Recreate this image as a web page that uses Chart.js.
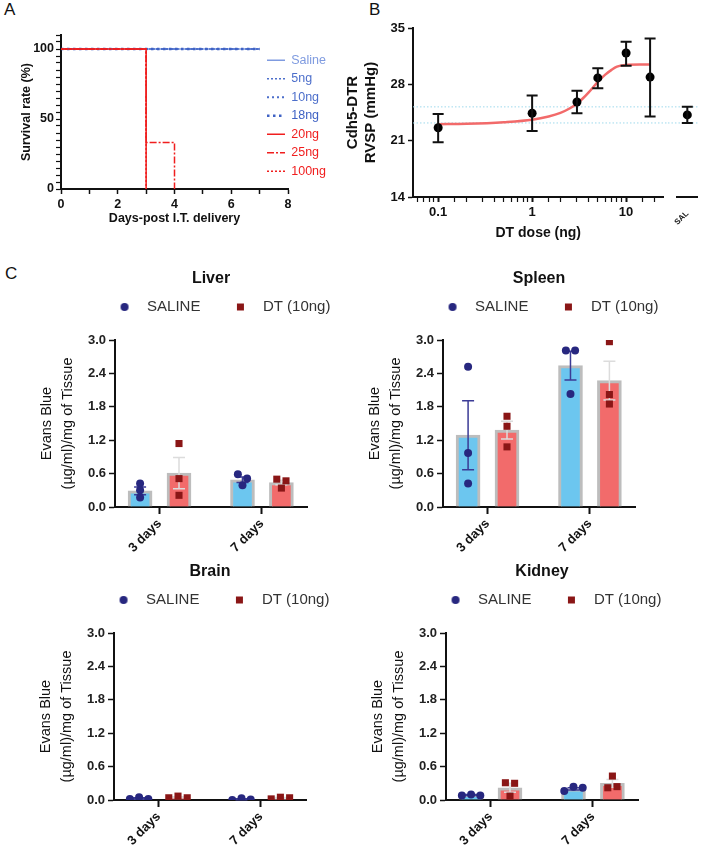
<!DOCTYPE html>
<html>
<head>
<meta charset="utf-8">
<script src="https://cdn.jsdelivr.net/npm/chart.js@4.4.1/dist/chart.umd.min.js"></script>
<style>
  html, body { margin: 0; padding: 0; background: #fff; overflow: hidden; }
  body { width: 702px; height: 847px; position: relative; font-family: 'Liberation Sans', Arial, sans-serif; }
  canvas { position: absolute; }
  .tag { position: absolute; font-size: 17px; color: #111; line-height: 1; }
</style>
</head>
<body>
<div class="tag" style="left:4px;top:1px">A</div>
<div class="tag" style="left:369px;top:1px">B</div>
<div class="tag" style="left:5px;top:265px">C</div>

<canvas id="survival" style="left:0;top:0" width="338" height="230"></canvas>
<canvas id="rvsp" style="left:340px;top:0" width="328" height="242"></canvas>
<canvas id="rvspSal" style="left:667px;top:0" width="35" height="242"></canvas>
<canvas id="liver" style="left:0;top:262px" width="345" height="290"></canvas>
<canvas id="spleen" style="left:328px;top:262px" width="345" height="290"></canvas>
<canvas id="brain" style="left:-1px;top:555px" width="345" height="290"></canvas>
<canvas id="kidney" style="left:331px;top:555px" width="345" height="290"></canvas>

<script>
// ---------- A: survival ----------
const survivalGroups = ['Saline', '5ng', '10ng', '18ng', '20ng', '25ng', '100ng'];
const survivalDays = [[0, 7], [0, 7], [0, 7], [0, 7], [0, 3], [0, 3, 4], [0, 3]];
const survivalPct = [[100, 100], [100, 100], [100, 100], [100, 100], [100, 0], [100, 33.3, 0], [100, 0]];
const dayTicks = [0, 2, 4, 6, 8];
const survivalTicks = [0, 50, 100];

// ---------- B: RVSP dose response ----------
const doseNg = [0.1, 1, 3, 5, 10, 18];
const rvspMean = [22.6, 24.4, 25.8, 28.8, 31.9, 28.9];
const rvspLow = [20.8, 22.2, 24.4, 27.5, 30.3, 24.0];
const rvspHigh = [24.3, 26.6, 27.2, 30.0, 33.3, 33.7];
const salRvsp = [24.2];
const salLow = [23.2];
const salHigh = [25.2];
// fitted curve
const fitDose = [0.1, 0.2, 0.5, 1, 1.5, 2, 2.5, 3, 3.5, 4, 5, 6, 7, 8, 10, 14, 18];
const fitRvsp = [23.05, 23.1, 23.3, 23.6, 24.0, 24.45, 25.0, 25.6, 26.3, 27.0, 28.3, 29.2, 29.8, 30.2, 30.4, 30.45, 30.45];
const salineBand = [25.2, 23.2];
const doseTicks = [0.1, 1, 10];
const rvspTicks = [14, 21, 28, 35];

// ---------- C: Evans blue ----------
const timepoints = ['3 days', '7 days'];

const liverSaline = [[0.42, 0.30, 0.17], [0.59, 0.39, 0.51]];
const liverSalineMean = [0.29, 0.49];
const liverSalineSem = [0.07, 0.05];
const liverDt = [[1.14, 0.51, 0.21], [0.50, 0.34, 0.47]];
const liverDtMean = [0.61, 0.44];
const liverDtSem = [0.28, 0.04];

const spleenSaline = [[2.52, 0.97, 0.42], [2.81, 2.03, 2.81]];
const spleenSalineMean = [1.29, 2.54];
const spleenSalineSem = [0.62, 0.26];
const spleenDt = [[1.63, 1.45, 1.08], [2.97, 2.02, 1.85]];
const spleenDtMean = [1.38, 2.27];
const spleenDtSem = [0.16, 0.35];

const brainSaline = [[0.02, 0.05, 0.02], [0.0, 0.03, 0.01]];
const brainSalineMean = [0.03, 0.013];
const brainSalineSem = [0.01, 0.01];
const brainDt = [[0.04, 0.07, 0.04], [0.02, 0.05, 0.04]];
const brainDtMean = [0.05, 0.037];
const brainDtSem = [0.01, 0.01];

const kidneySaline = [[0.08, 0.10, 0.08], [0.16, 0.24, 0.22]];
const kidneySalineMean = [0.09, 0.20];
const kidneySalineSem = [0.01, 0.02];
const kidneyDt = [[0.31, 0.07, 0.30], [0.22, 0.43, 0.24]];
const kidneyDtMean = [0.22, 0.30];
const kidneyDtSem = [0.08, 0.07];

Chart.defaults.font.family = "'Liberation Sans', Arial, Helvetica, sans-serif";
Chart.defaults.color = '#111';

const BOLD = (size) => ({ size: size, weight: 'bold' });

// vertical whiskers for datasets carrying errLow / errHigh
const errorBars = {
  id: 'errorBars',
  afterDatasetDraw(chart, args) {
    const ds = chart.data.datasets[args.index];
    if (!ds.errLow) return;
    const yScale = chart.scales[args.meta.yAxisID];
    const ctx = chart.ctx;
    const cap = ds.errCap || 6;
    ctx.save();
    ctx.strokeStyle = ds.errColor || '#000';
    ctx.lineWidth = ds.errWidth || 1.5;
    args.meta.data.forEach((el, i) => {
      const lo = yScale.getPixelForValue(ds.errLow[i]);
      const hi = yScale.getPixelForValue(ds.errHigh[i]);
      ctx.beginPath();
      ctx.moveTo(el.x, lo); ctx.lineTo(el.x, hi);
      ctx.moveTo(el.x - cap, lo); ctx.lineTo(el.x + cap, lo);
      ctx.moveTo(el.x - cap, hi); ctx.lineTo(el.x + cap, hi);
      ctx.stroke();
    });
    ctx.restore();
  }
};

// nudge the legend box after layout
const legendShift = {
  id: 'legendShift',
  afterLayout(chart, args, opts) {
    const lg = chart.legend;
    if (!lg) return;
    const dx = opts.dx || 0, dy = opts.dy || 0;
    lg.left += dx;
    if (lg.isHorizontal()) lg.right += dx;
    lg.top += dy; lg.bottom += dy;
  }
};

// ---------- A ----------
const survColor = ['#7f9be0', '#4d6fcb', '#4d6fcb', '#3f62c4', '#f01e1e', '#f01e1e', '#f01e1e'];
const survDash = [[], [2, 2], [2, 3], [2.5, 3.5], [], [7, 2, 2, 2], [2, 2]];
const survWidth = [1.5, 1.5, 2, 2.5, 1.5, 1.5, 1.5];
const survOrder = [4, 3, 2, 1, 0, 0, 0];

new Chart(document.getElementById('survival'), {
  type: 'line',
  data: {
    datasets: survivalGroups.map((g, i) => ({
      label: g,
      data: survivalDays[i].map((d, j) => ({ x: d, y: survivalPct[i][j] })),
      borderColor: survColor[i],
      borderDash: survDash[i],
      borderWidth: survWidth[i],
      stepped: 'before',
      pointRadius: 0,
      fill: false,
      order: survOrder[i]
    }))
  },
  options: {
    responsive: false, animation: false, devicePixelRatio: 1,
    layout: { padding: { left: 8, top: 35, right: 0, bottom: 0 } },
    scales: {
      x: {
        type: 'linear', min: 0, max: 8,
        afterFit: s => { s.height = 41; },
        ticks: { stepSize: 1, autoSkip: false, maxRotation: 0, padding: 3, font: BOLD(12.5), color: '#111',
                 callback: v => dayTicks.includes(v) ? String(v) : '' },
        grid: { drawOnChartArea: false, tickLength: 5, tickWidth: 1.5, tickColor: '#111' },
        border: { color: '#111', width: 2 },
        title: { display: true, text: 'Days-post I.T. delivery', font: BOLD(12.5), color: '#111', padding: { top: 0, bottom: 4 } }
      },
      y: {
        min: 0, max: 110,
        afterFit: s => { s.width = 53; },
        ticks: { stepSize: 5, autoSkip: false, padding: 2, font: BOLD(12.5), color: '#111',
                 callback: v => survivalTicks.includes(v) ? String(v) : '' },
        grid: { drawOnChartArea: false, tickLength: 5, tickWidth: 1.2, tickColor: '#111' },
        border: { color: '#111', width: 2 },
        title: { display: true, text: 'Survival rate (%)', font: BOLD(12.5), color: '#111', padding: { top: 11, bottom: 0 } }
      }
    },
    plugins: {
      legend: {
        position: 'right', align: 'start', maxWidth: 50,
        labels: {
          usePointStyle: true, pointStyle: 'line', pointStyleWidth: 18, padding: 6,
          font: { size: 12.5 },
          generateLabels: chart => Chart.defaults.plugins.legend.labels.generateLabels(chart)
            .sort((a, b) => a.datasetIndex - b.datasetIndex)
            .map(item => Object.assign(item, {
              fontColor: survColor[item.datasetIndex],
              strokeStyle: survColor[item.datasetIndex],
              lineDash: survDash[item.datasetIndex],
              lineWidth: survWidth[item.datasetIndex]
            }))
        }
      },
      legendShift: { dx: -27, dy: 13 },
      tooltip: { enabled: false }
    }
  },
  plugins: [legendShift]
});

// ---------- B ----------
const isDoseTick = v => doseTicks.some(t => Math.abs(v / t - 1) < 1e-6);
const bandLine = (y, x0, x1) => ({
  type: 'line', data: [{ x: x0, y: y }, { x: x1, y: y }],
  borderColor: '#9fd9ec', borderWidth: 1, borderDash: [1.5, 2], pointRadius: 0, clip: false, order: 2
});

new Chart(document.getElementById('rvsp'), {
  type: 'scatter',
  data: {
    datasets: [
      {
        label: 'RVSP', data: doseNg.map((d, i) => ({ x: d, y: rvspMean[i] })),
        backgroundColor: '#000', borderWidth: 0, pointRadius: 4.5, order: 0,
        errLow: rvspLow, errHigh: rvspHigh, errColor: '#111', errWidth: 2, errCap: 5.5
      },
      {
        type: 'line', label: 'fit', data: fitDose.map((d, i) => ({ x: d, y: fitRvsp[i] })),
        borderColor: '#f26a6a', borderWidth: 2.5, pointRadius: 0, cubicInterpolationMode: 'monotone', order: 1
      },
      ...salineBand.map(y => bandLine(y, 0.054, 30))
    ]
  },
  options: {
    responsive: false, animation: false, devicePixelRatio: 1,
    layout: { padding: { left: 4, top: 28, right: 3, bottom: 0 } },
    scales: {
      x: {
        type: 'logarithmic', min: 0.054, max: 25,
        afterBuildTicks: s => { s.ticks = s.ticks.filter(t => t.value > s.min * 1.001 && t.value < s.max * 0.999); },
        afterFit: s => { s.height = 45; },
        ticks: { autoSkip: false, maxRotation: 0, padding: 3, font: BOLD(13), color: '#111',
                 callback: v => isDoseTick(v) ? String(doseTicks.find(t => Math.abs(v / t - 1) < 1e-6)) : '' },
        grid: { drawOnChartArea: false, tickLength: 5, tickColor: '#111',
                tickWidth: c => (c.tick && isDoseTick(c.tick.value)) ? 2 : 1.2 },
        border: { color: '#111', width: 2 },
        title: { display: true, text: 'DT dose (ng)', font: BOLD(14), color: '#111', padding: { top: 0, bottom: 0 } }
      },
      y: {
        min: 14, max: 35,
        afterFit: s => { s.width = 69; },
        afterBuildTicks: s => { s.ticks = rvspTicks.map(v => ({ value: v })); },
        ticks: { padding: 3, font: BOLD(13), color: '#111' },
        grid: { drawOnChartArea: false, tickLength: 5, tickWidth: 1.5, tickColor: '#111' },
        border: { color: '#111', width: 2 },
        title: { display: true, text: ['Cdh5-DTR', 'RVSP (mmHg)'], font: { size: 15, weight: 'bold', lineHeight: 1.2 }, color: '#111', padding: { top: 0, bottom: 0 } }
      }
    },
    plugins: { legend: { display: false }, tooltip: { enabled: false } }
  },
  plugins: [errorBars]
});

new Chart(document.getElementById('rvspSal'), {
  type: 'scatter',
  data: {
    datasets: [
      {
        label: 'SAL', data: salRvsp.map(v => ({ x: 0.5, y: v })),
        backgroundColor: '#000', borderWidth: 0, pointRadius: 4.5, order: 0,
        errLow: salLow, errHigh: salHigh, errColor: '#111', errWidth: 2, errCap: 5.5
      },
      ...salineBand.map(y => bandLine(y, -0.45, 1))
    ]
  },
  options: {
    responsive: false, animation: false, devicePixelRatio: 1,
    layout: { padding: { left: 10, top: 28, right: 0, bottom: 0 } },
    scales: {
      x: {
        type: 'linear', min: 0, max: 1,
        afterBuildTicks: s => { s.ticks = [{ value: 0.5 }]; },
        afterFit: s => { s.height = 45; },
        ticks: { autoSkip: false, minRotation: 45, maxRotation: 45, padding: 4, font: BOLD(8), color: '#111', callback: () => 'SAL' },
        grid: { display: false },
        border: { color: '#111', width: 2 }
      },
      y: { min: 14, max: 35, display: false }
    },
    plugins: { legend: { display: false }, tooltip: { enabled: false } }
  },
  plugins: [errorBars]
});

// ---------- C ----------
const NAVY = '#27277f', MAROON = '#8a1616', SKY = '#6cc6ef', SALMON = '#f26b6b', GREY = '#bdbdbd';

function marker(shape, color, size) {
  const c = document.createElement('canvas');
  c.width = c.height = size + 2;
  const g = c.getContext('2d');
  g.fillStyle = color;
  if (shape === 'circle') {
    g.beginPath(); g.arc(c.width / 2, c.height / 2, size / 2, 0, Math.PI * 2); g.fill();
  } else {
    g.fillRect(1, 1, size, size);
  }
  return c;
}
const circleMark = marker('circle', NAVY, 8);
const squareMark = marker('rect', MAROON, 7);

// points with nearly equal values sit side by side, the rest stay centred
function spreadX(values, centre) {
  const groups = [];
  values.forEach((v, i) => {
    const g = groups.find(gr => gr.some(j => Math.abs(values[j] - v) < 0.1));
    if (g) g.push(i); else groups.push([i]);
  });
  const xs = [];
  groups.forEach(g => g.forEach((idx, k) => { xs[idx] = centre + (k - (g.length - 1) / 2) * 0.09; }));
  return xs;
}

function organChart(id, organ, salPts, salMean, salSem, dtPts, dtMean, dtSem) {
  const salX = timepoints.map((t, i) => i + 1 - 0.19);
  const dtX = timepoints.map((t, i) => i + 1 + 0.19);
  const dots = (pts, xs) => pts.flatMap((vals, i) => spreadX(vals, xs[i]).map((x, k) => ({ x: x, y: vals[k] })));
  const bars = (mean, xs) => mean.map((m, i) => ({ x: xs[i], y: m }));

  new Chart(document.getElementById(id), {
    type: 'bar',
    data: {
      datasets: [
        { type: 'scatter', label: 'SALINE', data: dots(salPts, salX), pointStyle: 'circle', pointRadius: 4,
          backgroundColor: NAVY, borderWidth: 0, order: 0 },
        { type: 'scatter', label: 'DT (10ng)', data: dots(dtPts, dtX), pointStyle: 'rect', pointRadius: 5,
          backgroundColor: MAROON, borderWidth: 0, order: 0 },
        { type: 'bar', label: 'saline mean', data: bars(salMean, salX), backgroundColor: SKY, borderColor: GREY,
          borderWidth: 3, barThickness: 24, grouped: false, order: 2,
          errLow: salMean.map((m, i) => m - salSem[i]), errHigh: salMean.map((m, i) => m + salSem[i]),
          errColor: '#3b3b96', errWidth: 1.5, errCap: 6 },
        { type: 'bar', label: 'dt mean', data: bars(dtMean, dtX), backgroundColor: SALMON, borderColor: GREY,
          borderWidth: 3, barThickness: 24, grouped: false, order: 2,
          errLow: dtMean.map((m, i) => m - dtSem[i]), errHigh: dtMean.map((m, i) => m + dtSem[i]),
          errColor: '#dcdcdc', errWidth: 1.5, errCap: 6 }
      ]
    },
    options: {
      responsive: false, animation: false, devicePixelRatio: 1,
      layout: { padding: { left: 33, right: 38, top: 0, bottom: 0 } },
      scales: {
        x: {
          type: 'linear', min: 0.565, max: 2.44, offset: false,
          afterBuildTicks: s => { s.ticks = timepoints.map((t, i) => ({ value: i + 1 })); },
          afterFit: s => { s.height = 45; },
          ticks: { autoSkip: false, minRotation: 45, maxRotation: 45, padding: 2, font: BOLD(13), color: '#111',
                   callback: v => timepoints[Math.round(v) - 1] },
          grid: { drawOnChartArea: false, offset: false, tickLength: 7, tickWidth: 2, tickColor: '#111' },
          border: { color: '#111', width: 2 }
        },
        y: {
          min: 0, max: 3,
          afterFit: s => { s.width = 82; },
          ticks: { stepSize: 0.6, padding: 3, font: BOLD(13), color: '#222', callback: v => v.toFixed(1) },
          grid: { drawOnChartArea: false, tickLength: 6, tickWidth: 1.5, tickColor: '#111' },
          border: { color: '#111', width: 2 },
          title: { display: true, text: ['Evans Blue', '(µg/ml)/mg of Tissue'], font: { size: 14.5, lineHeight: 1.45 },
                   color: '#111', padding: { top: 3.5, bottom: 0 } }
        }
      },
      plugins: {
        title: { display: true, text: organ, fullSize: false, font: { size: 16, weight: 'bold' }, color: '#111',
                 padding: { top: 7.4, bottom: 1.4 } },
        legend: {
          position: 'top',
          labels: {
            usePointStyle: true, pointStyleWidth: 30, padding: 25, font: { size: 15 }, color: '#333',
            generateLabels: () => [
              { text: 'SALINE', pointStyle: circleMark, fontColor: '#333', lineWidth: 0, hidden: false, datasetIndex: 0 },
              { text: 'DT (10ng)', pointStyle: squareMark, fontColor: '#333', lineWidth: 0, hidden: false, datasetIndex: 1 }
            ]
          }
        },
        legendShift: { dx: 50, dy: -15.5 },
        tooltip: { enabled: false }
      }
    },
    plugins: [errorBars, legendShift]
  });
}

organChart('liver', 'Liver', liverSaline, liverSalineMean, liverSalineSem, liverDt, liverDtMean, liverDtSem);
organChart('spleen', 'Spleen', spleenSaline, spleenSalineMean, spleenSalineSem, spleenDt, spleenDtMean, spleenDtSem);
organChart('brain', 'Brain', brainSaline, brainSalineMean, brainSalineSem, brainDt, brainDtMean, brainDtSem);
organChart('kidney', 'Kidney', kidneySaline, kidneySalineMean, kidneySalineSem, kidneyDt, kidneyDtMean, kidneyDtSem);
</script>
</body>
</html>
